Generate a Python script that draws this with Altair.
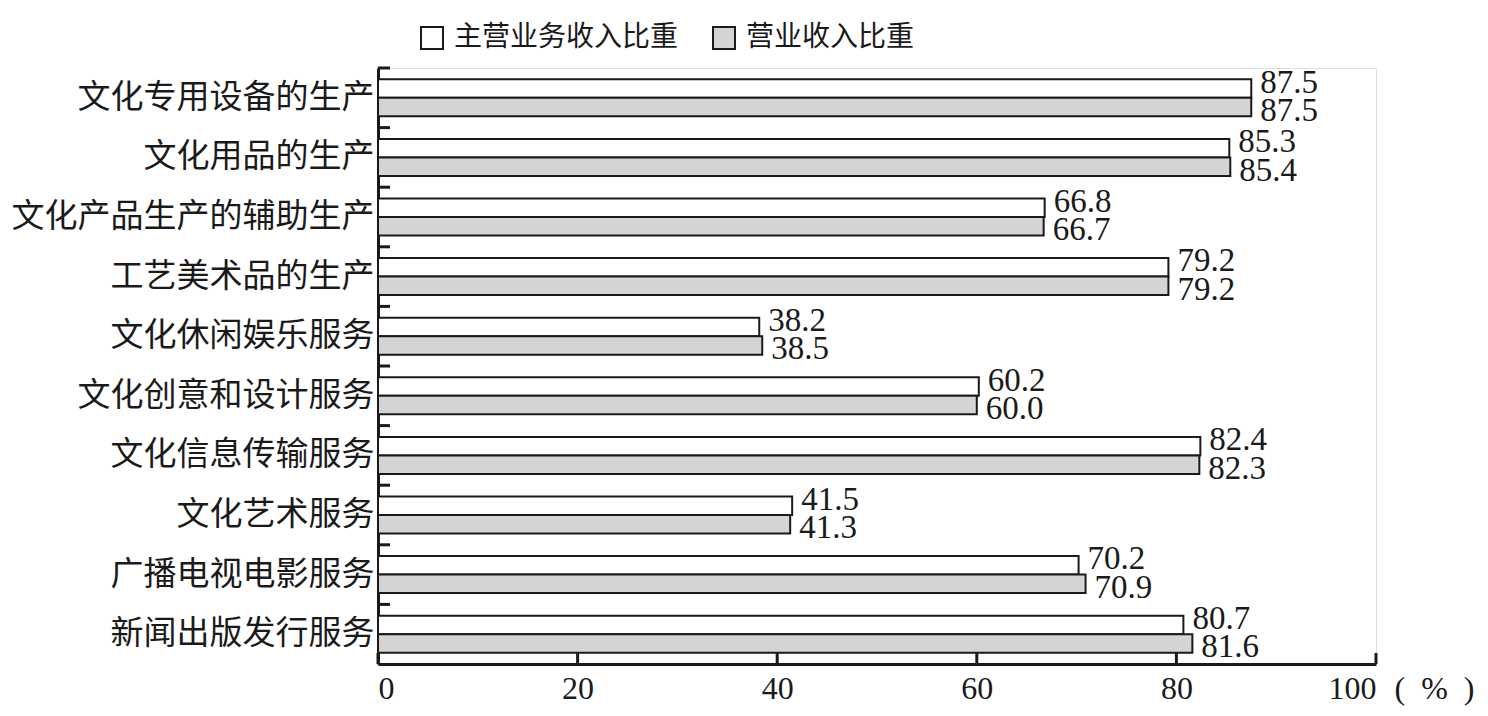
import altair as alt
import pandas as pd

categories = ["文化专用设备的生产", "文化用品的生产", "文化产品生产的辅助生产", "工艺美术品的生产",
              "文化休闲娱乐服务", "文化创意和设计服务", "文化信息传输服务", "文化艺术服务",
              "广播电视电影服务", "新闻出版发行服务"]
series_names = ["主营业务收入比重", "营业收入比重"]
main_share = [87.5, 85.3, 66.8, 79.2, 38.2, 60.2, 82.4, 41.5, 70.2, 80.7]
total_share = [87.5, 85.4, 66.7, 79.2, 38.5, 60.0, 82.3, 41.3, 70.9, 81.6]
x_ticks = [0, 20, 40, 60, 80, 100]

rows = []
for c, a, b in zip(categories, main_share, total_share):
    rows.append({"cat": c, "series": series_names[0], "value": a})
    rows.append({"cat": c, "series": series_names[1], "value": b})
df = pd.DataFrame(rows)
ticks_df = pd.DataFrame({"t": x_ticks})

FONT = "Liberation Serif, Noto Sans CJK SC"
W, H = 998, 596

y_enc = alt.Y("cat:N", sort=categories, scale=alt.Scale(paddingInner=0, paddingOuter=0),
              axis=alt.Axis(title=None, ticks=False, labelFontSize=33, labelFont=FONT,
                            labelColor="#1a1a1a", labelPadding=4, labelLimit=500,
                            domainColor="#1a1a1a", domainWidth=3, grid=False))
x_enc = alt.X("value:Q", scale=alt.Scale(domain=[0, 100], nice=False),
              axis=alt.Axis(values=x_ticks, ticks=False, labelFontSize=32, labelFont=FONT,
                            labelColor="#1a1a1a", labelPadding=9, domainColor="#1a1a1a",
                            domainWidth=3, grid=False, title="(\u2002%\u2002)", titleFont=FONT,
                            titleFontSize=32, titleFontWeight="normal", titleColor="#1a1a1a",
                            titleX=1016, titleY=24, titleAlign="left", titleBaseline="middle",
                            titleAnchor="start"))
yoff = alt.YOffset("series:N", sort=series_names,
                   scale=alt.Scale(paddingInner=0, paddingOuter=0.61))
fill = alt.Fill("series:N", sort=series_names,
                scale=alt.Scale(domain=series_names, range=["#ffffff", "#d4d4d4"]),
                legend=alt.Legend(title=None, orient="none", legendX=40, legendY=-44,
                                  direction="horizontal", symbolType="square", symbolSize=484,
                                  symbolStrokeColor="#1a1a1a", symbolStrokeWidth=2,
                                  labelFontSize=28, labelFont=FONT, labelColor="#1a1a1a",
                                  labelOffset=8, columnPadding=30, labelLimit=400))

bars = alt.Chart(df).mark_bar(stroke="#1a1a1a", strokeWidth=2).encode(
    x=x_enc, y=y_enc, yOffset=yoff, fill=fill)

text_main = alt.Chart(df).transform_filter(alt.datum.series == series_names[0]).mark_text(
    align="left", baseline="middle", dx=9, dy=-6, fontSize=33, font=FONT, color="#1a1a1a"
).encode(x="value:Q", y=alt.Y("cat:N", sort=categories), yOffset=yoff,
         text=alt.Text("value:Q", format=".1f"))

text_total = alt.Chart(df).transform_filter(alt.datum.series == series_names[1]).mark_text(
    align="left", baseline="middle", dx=9, dy=4, fontSize=33, font=FONT, color="#1a1a1a"
).encode(x="value:Q", y=alt.Y("cat:N", sort=categories), yOffset=yoff,
         text=alt.Text("value:Q", format=".1f"))

ytick_rules = alt.Chart(df).transform_filter(alt.datum.series == series_names[0]).mark_rule(
    color="#1a1a1a", strokeWidth=3
).encode(y=alt.Y("cat:N", sort=categories, bandPosition=0), x=alt.value(0), x2=alt.value(12))

xtick_rules = alt.Chart(ticks_df).mark_rule(color="#1a1a1a", strokeWidth=3).encode(
    x=alt.X("t:Q"), y=alt.value(H), y2=alt.value(H - 11))

chart = alt.layer(bars, text_main, text_total, ytick_rules, xtick_rules).properties(
    width=W, height=H, padding={"left": 3, "top": 16, "right": 5, "bottom": 5}
).configure_view(stroke=None).configure(background="white")

chart.save("out.html", embed_options={"renderer": "svg", "actions": False})
